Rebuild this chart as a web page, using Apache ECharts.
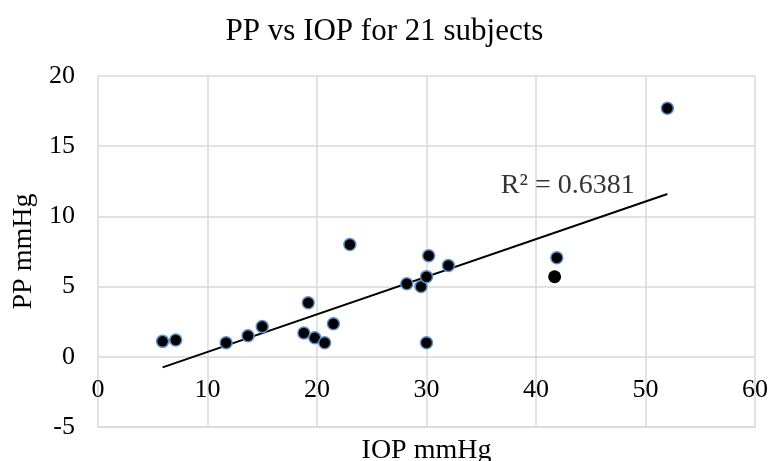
<!DOCTYPE html>
<html><head><meta charset="utf-8">
<script src="https://cdn.jsdelivr.net/npm/echarts@6/dist/echarts.min.js"></script>
<style>html,body{margin:0;padding:0;background:#fff}#c{width:769px;height:461px}</style>
</head><body><div id="c"></div>
<script>
var iop = [5.9, 7.1, 11.7, 13.7, 15.0, 18.8, 19.2, 19.8, 20.7, 21.5, 23.0, 28.2, 29.5, 30.0, 30.2, 30.0, 32.0, 41.9, 52.0];
var pp  = [1.1, 1.2, 1.0, 1.5, 2.15, 1.7, 3.85, 1.35, 1.0, 2.35, 8.0, 5.2, 5.0, 5.7, 7.2, 1.0, 6.5, 7.05, 17.7];
var outlierIop = [41.7];
var outlierPp = [5.7];
var trendIop = [5.9, 52.0];
var trendPp = [-0.75, 11.6];
var r2Text = 'R² = 0.6381';
var r2Pos = [42.9, 12.2];
var xTicks = {min: 0, max: 60, interval: 10};
var yTicks = {min: -5, max: 20, interval: 5};

var font = '"Liberation Serif", "Times New Roman", serif';
var chart = echarts.init(document.getElementById('c'), null, {renderer: 'canvas'});
function pairs(a, b){ return a.map(function(v, i){ return [v, b[i]]; }); }
chart.setOption({
  animation: false,
  backgroundColor: '#fff',
  title: {text: 'PP vs IOP for 21 subjects', left: 'center', top: 11,
    textStyle: {fontFamily: font, fontSize: 31, fontWeight: 'normal', color: '#000'}},
  grid: {left: 98, right: 14, top: 76, bottom: 34, outerBoundsMode: 'none', containLabel: false},
  xAxis: {type: 'value', min: xTicks.min, max: xTicks.max, interval: xTicks.interval,
    name: 'IOP mmHg', nameLocation: 'middle', nameGap: 10,
    nameTextStyle: {fontFamily: font, fontSize: 28, color: '#000'},
    axisLine: {show: true, onZero: false, lineStyle: {color: '#d9d9d9', width: 1.5}},
    axisTick: {show: false},
    axisLabel: {fontFamily: font, fontSize: 26, color: '#000', margin: -50},
    splitLine: {show: true, lineStyle: {color: '#d9d9d9', width: 1.5}}},
  yAxis: {type: 'value', min: yTicks.min, max: yTicks.max, interval: yTicks.interval,
    name: 'PP mmHg', nameLocation: 'middle', nameGap: 54,
    nameTextStyle: {fontFamily: font, fontSize: 28, color: '#000'},
    axisLine: {show: false}, axisTick: {show: false},
    axisLabel: {fontFamily: font, fontSize: 26, color: '#000', margin: 23},
    splitLine: {show: true, lineStyle: {color: '#d9d9d9', width: 1.5}}},
  series: [
    {type: 'line', data: pairs(trendIop, trendPp), symbol: 'none', z: 1,
      lineStyle: {color: '#000', width: 2}},
    {type: 'scatter', data: pairs(iop, pp), symbolSize: 12, z: 3,
      itemStyle: {color: '#000', opacity: 1, borderColor: '#5b8fd0', borderWidth: 1.5}},
    {type: 'scatter', data: pairs(outlierIop, outlierPp), symbolSize: 13, z: 3,
      itemStyle: {color: '#000', opacity: 1}},
    {type: 'scatter', data: [r2Pos], symbolSize: 1, z: 4, itemStyle: {color: 'rgba(0,0,0,0)'},
      label: {show: true, position: 'inside', formatter: r2Text,
        fontFamily: font, fontSize: 28, color: '#000'}}
  ]
});
</script></body></html>
